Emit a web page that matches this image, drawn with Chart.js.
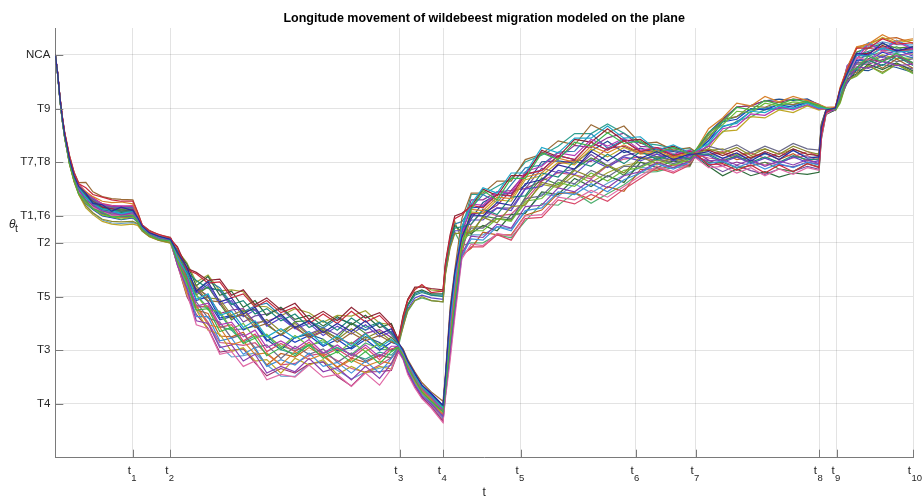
<!DOCTYPE html>
<html>
<head>
<meta charset="utf-8">
<script src="https://cdn.jsdelivr.net/npm/chart.js@4.4.1/dist/chart.umd.min.js"></script>
<style>
html,body{margin:0;padding:0;background:#fff;}
#wrap{width:922px;height:499px;position:relative;}
</style>
</head>
<body>
<div id="wrap"><canvas id="c" width="922" height="499"></canvas></div>
<script>
// ---- data ----
const titleText = 'Longitude movement of wildebeest migration modeled on the plane';
const xTickValues = [33, 49, 146.5, 165, 198, 247, 272.5, 325, 332.5, 365];
const xTickLabels = ['t', 't', 't', 't', 't', 't', 't', 't', 't', 't'];
const xTickSubs = ['1', '2', '3', '4', '5', '6', '7', '8', '9', '10'];
const yTickValues = [2, 4, 6, 8, 9, 11, 13, 15];
const yTickLabels = ['T4', 'T3', 'T5', 'T2', 'T1,T6', 'T7,T8', 'T9', 'NCA'];

const days = [0,1,2,3,4,5,6,8,10,13,16,20,24,28,33,35,37,40,44,49,52,56,60,65,70,75,80,85,90,96,102,108,114,120,126,132,138,143,146,148,150,153,156,160,165,166,168,170,173,177,182,188,194,200,207,214,221,228,235,242,249,256,263,270,272,278,284,290,296,302,308,314,320,325,326,328,332,334,337,341,346,352,358,365];

const p00 = [15,14.31,13.38,12.64,12.02,11.6,11.13,10.5,10.1,9.85,9.47,9.42,9.18,9.33,9.2,8.95,8.62,8.38,8.25,8.13, 7.63,7.1,6.2,6.55,5.8,5.95,5.35,5.6,5.0,5.35,4.85,5.1,4.65,5.0,4.7,5.1,4.6,4.8,4.3, 4.0,3.6,3.15,2.7,2.4,1.95,3.0,5.4,6.9, 8.2,9.05,9.0,9.5,9.4,10.2,10.35,10.9,10.75,11.4,11.05,11.45,11.15,11.4,11.1,11.3,11.3, 11.4,11.15,11.35,11.05,11.35,11.1,11.45,11.15,11.2,12.3,12.95, 13.02,13.7,14.3,15.05,15.0,15.45,15.15,15.3];
const p01 = [15,14.28,13.31,12.55,11.94,11.48,11.0,10.37,9.83,9.58,9.27,9.14,8.96,8.99,9.03,8.8,8.5,8.3,8.13,8.07, 7.3,6.55,5.5,5.55,4.7,4.85,4.25,4.45,3.8,4.1,3.8,4.2,3.7,3.95,3.55,3.95,3.5,3.95,4.1, 3.8,3.35,2.9,2.45,2.1,1.7,2.5,4.3,5.8, 7.9,9.25,9.95,9.6,10.4,10.4,11.35,11.1,11.75,11.6,12.1,11.7,11.8,11.35,11.55,11.3,11.4, 12.1,12.5,13.05,12.95,13.3,13.15,13.35,13.25,13.12,13.08,13.02, 12.98,13.35,14.35,14.5,14.95,14.75,15.05,14.7];
const p02 = [15,14.34,13.42,12.7,12.1,11.68,11.25,10.62,10.2,10.05,9.8,9.7,9.6,9.55,9.55,9.15,8.67,8.44,8.32,8.18, 7.8,7.0,6.85,6.5,6.55,5.95,6.1,5.6,5.85,5.4,5.6,5.0,5.35,5.0,5.45,5.05,5.3,4.85,4.35, 5.2,5.85,6.25,6.45,6.15,6.2,7.2,8.2,8.9, 9.05,9.4,9.3,9.8,9.75,10.55,10.7,11.25,11.1,11.75,11.45,11.8,11.4,11.55,11.25,11.4,11.35, 10.9,10.95,10.7,10.9,10.6,10.9,10.65,10.95,10.8,12.0,12.85, 13.05,13.75,14.45,15.25,15.25,15.6,15.4,15.45];
const p03 = [15,14.29,13.33,12.58,11.98,11.52,11.05,10.42,9.97,9.6,9.42,9.18,9.12,9.03,9.12,8.85,8.52,8.33,8.17,8.09, 7.15,6.3,5.1,5.0,4.1,4.2,3.6,3.85,3.15,3.4,3.2,3.7,3.2,3.35,2.9,3.4,2.95,3.5,4.0, 3.7,3.2,2.7,2.3,2.0,1.55,2.4,4.0,5.5, 7.6,8.25,8.2,8.7,8.55,9.35,9.4,10.05,9.9,10.35,10.05,10.5,10.65,11.0,10.8,11.05,11.2, 11.05,11.1,10.9,11.1,10.85,11.05,10.9,11.1,10.95,12.1,12.88, 12.96,13.45,14.0,14.55,14.5,14.75,14.6,14.65];
const p04 = [15,14.3,13.36,12.6,12.0,11.56,11.1,10.45,10.03,9.7,9.44,9.26,9.2,9.1,9.16,8.9,8.56,8.35,8.2,8.12, 7.45,6.85,5.9,6.1,5.3,5.45,4.85,5.1,4.5,4.8,4.45,4.7,4.2,4.55,4.15,4.6,4.1,4.4,4.2, 3.95,3.55,3.05,2.65,2.3,1.85,2.9,5.1,6.6, 8.6,9.45,10.05,9.85,10.6,10.6,11.55,11.35,11.9,11.9,12.35,11.9,11.95,11.45,11.65,11.35,11.4, 11.7,12.35,12.45,12.9,12.85,13.1,13.0,13.2,13.02,13.04,13.0, 13.01,13.6,14.25,15.0,14.95,15.25,15.1,15.15];
const p05 = [15,14.26,13.29,12.52,11.9,11.43,10.95,10.28,9.8,9.38,9.12,8.88,8.8,8.78,8.8,8.72,8.45,8.24,8.1,8.0, 7.6,6.7,6.4,5.95,5.9,5.3,5.5,4.95,5.15,4.7,5.0,4.55,4.8,4.4,4.8,4.45,4.7,4.35,4.25, 4.85,5.5,5.85,6.0,5.85,5.8,6.8,7.8,8.35, 8.35,8.4,8.95,8.75,9.35,9.4,10.25,10.1,10.7,10.45,10.9,10.6,11.2,10.95,11.15,11.0,11.28, 11.5,11.35,11.55,11.25,11.5,11.3,11.6,11.4,11.3,12.4,12.95, 12.94,13.25,14.05,14.25,14.6,14.35,14.65,14.35];
const p06 = [15,14.32,13.4,12.66,12.06,11.63,11.2,10.55,10.12,9.9,9.72,9.55,9.5,9.52,9.45,9.05,8.62,8.41,8.27,8.16, 7.35,6.15,5.65,4.95,4.85,4.2,4.35,3.85,3.9,3.45,3.95,3.65,3.85,3.35,3.65,3.4,3.6,3.5,4.05, 3.85,3.4,2.85,2.5,2.15,1.6,2.6,4.4,6.0, 8.0,9.25,9.2,9.7,9.65,10.45,10.6,11.15,11.0,11.6,11.35,11.65,11.35,11.45,11.2,11.35,11.35, 12.25,12.65,13.2,13.1,13.45,13.25,13.45,13.3,13.15,13.12,13.05, 13.06,13.8,14.5,15.3,15.4,15.75,15.5,15.6];
const p07 = [15,14.29,13.32,12.57,11.96,11.5,11.04,10.4,9.9,9.62,9.33,9.17,9.03,9.02,9.04,8.83,8.5,8.3,8.16,8.06, 7.15,6.15,4.95,4.8,3.85,3.95,3.4,3.6,2.9,3.1,3.0,3.45,3.0,3.1,2.65,3.15,2.7,3.3,3.95, 3.65,3.1,2.6,2.2,1.85,1.3,2.2,3.6,5.2, 7.4,7.95,7.9,8.35,8.25,9.0,9.05,9.7,9.6,9.95,9.7,10.1,10.5,10.85,10.65,10.95,11.2, 10.8,10.85,10.6,10.8,10.5,10.75,10.55,10.8,10.7,11.9,12.8, 13.0,13.6,14.2,14.9,14.8,15.15,14.95,15.05];
const p08 = [15,14.3,13.36,12.62,12.01,11.57,11.12,10.48,10.06,9.74,9.52,9.28,9.22,9.18,9.19,8.92,8.56,8.37,8.2,8.11, 7.7,6.9,6.6,6.3,6.25,5.7,5.85,5.35,5.55,5.1,5.35,4.85,5.1,4.75,5.2,4.85,5.05,4.65,4.3, 5.05,5.65,6.05,6.15,6.05,6.0,7.0,8.0,8.55, 8.6,8.7,9.25,9.05,9.7,9.75,10.6,10.45,11.05,10.85,11.3,10.95,11.4,11.1,11.3,11.1,11.3, 11.3,11.05,11.25,11.0,11.2,11.0,11.25,11.1,11.12,12.2,12.9, 12.97,13.3,14.2,14.45,14.8,14.6,14.95,14.6];
const p09 = [15,14.33,13.4,12.67,12.07,11.65,11.2,10.58,10.16,9.88,9.67,9.43,9.37,9.38,9.36,9.02,8.64,8.44,8.28,8.18, 7.45,6.7,5.65,5.75,4.95,5.05,4.5,4.75,4.1,4.35,4.05,4.4,3.9,4.2,3.8,4.2,3.75,4.15,4.15, 3.9,3.45,2.95,2.55,2.25,1.75,2.7,4.8,6.4, 8.3,9.45,9.4,9.9,9.85,10.65,10.85,11.35,11.25,11.85,11.6,11.9,11.45,11.55,11.3,11.45,11.35, 11.6,12.25,12.35,12.8,12.75,13.05,12.95,13.15,12.98,13.0,12.98, 13.03,13.5,14.6,14.85,15.4,15.15,15.5,15.2];
const p10 = [15,14.27,13.3,12.54,11.93,11.46,10.98,10.32,9.86,9.48,9.27,9.03,8.97,8.88,8.96,8.78,8.47,8.28,8.12,8.03, 7.4,6.45,6.05,5.5,5.45,4.8,5.0,4.45,4.6,4.1,4.55,4.15,4.4,3.9,4.3,3.95,4.25,3.95,4.15, 3.9,3.5,3.0,2.6,2.2,1.85,2.75,4.9,6.5, 8.0,8.45,8.45,8.9,8.8,9.55,9.65,10.25,10.1,10.6,10.3,10.7,10.8,11.1,10.9,11.1,11.25, 12.0,12.4,12.9,12.85,13.2,13.1,13.25,13.2,13.06,13.06,13.01, 12.93,13.2,14.05,14.2,14.6,14.3,14.65,14.3];
const p11 = [15,14.31,13.37,12.63,12.03,11.58,11.14,10.5,10.07,9.76,9.54,9.33,9.27,9.18,9.23,8.93,8.58,8.36,8.23,8.13, 7.85,7.05,6.9,6.6,6.65,6.05,6.25,5.7,5.95,5.5,5.75,5.15,5.45,5.1,5.6,5.2,5.4,4.95,4.4, 5.3,5.9,6.35,6.35,6.3,6.25,7.25,8.3,9.0, 9.1,9.35,10.0,9.75,10.5,10.5,11.45,11.2,11.85,11.75,12.25,11.8,11.85,11.45,11.6,11.35,11.42, 11.45,11.25,11.45,11.15,11.4,11.2,11.5,11.3,11.25,12.35,12.93, 13.02,13.65,14.3,15.05,15.05,15.35,15.15,15.25];
const p12 = [15,14.3,13.34,12.59,11.99,11.54,11.08,10.43,9.99,9.65,9.44,9.2,9.14,9.08,9.13,8.87,8.54,8.32,8.19,8.09, 7.25,6.4,5.25,5.25,4.35,4.45,3.85,4.1,3.4,3.65,3.45,3.9,3.4,3.55,3.15,3.6,3.15,3.7,4.05, 3.75,3.25,2.75,2.35,2.05,1.5,2.45,4.2,5.7, 7.5,8.15,8.1,8.6,8.45,9.2,9.3,9.9,9.8,10.2,9.9,10.35,10.6,10.95,10.75,11.0,11.22, 10.95,11.05,10.8,11.0,10.75,10.95,10.8,11.0,10.9,12.05,12.86, 13.04,13.55,14.6,14.95,15.45,15.2,15.55,15.25];
const p13 = [15,14.35,13.43,12.71,12.12,11.7,11.27,10.63,10.24,10.25,9.9,9.72,9.65,9.62,9.6,9.15,8.67,8.47,8.3,8.21, 7.55,6.65,6.3,5.85,5.8,5.2,5.35,4.85,5.0,4.55,4.9,4.45,4.7,4.3,4.65,4.35,4.55,4.3,4.25, 4.05,3.65,3.2,2.8,2.45,2.1,3.1,5.6,7.0, 8.9,9.85,9.85,10.3,10.3,11.1,11.3,11.8,11.65,12.4,12.1,12.35,11.7,11.75,11.45,11.55,11.42, 11.9,12.6,12.7,13.1,13.05,13.25,13.15,13.3,13.08,13.06,13.01, 12.96,13.3,14.25,14.35,14.85,14.5,14.85,14.5];
const p14 = [15,14.28,13.32,12.56,11.95,11.49,11.03,10.38,9.91,9.56,9.34,9.1,9.04,8.98,9.01,8.82,8.49,8.28,8.15,8.05, 7.6,7.05,6.15,6.45,5.7,5.85,5.25,5.5,4.9,5.2,4.8,5.0,4.55,4.9,4.6,4.95,4.5,4.7,4.3, 4.95,5.55,5.95,6.05,5.95,5.9,6.9,7.9,8.45, 8.45,8.85,8.85,9.3,9.2,10.0,10.1,10.7,10.55,11.1,10.8,11.2,11.05,11.3,11.05,11.25,11.3, 11.25,11.0,11.2,10.95,11.15,10.95,11.2,11.0,11.05,12.2,12.9, 13.0,13.45,14.4,14.7,15.1,14.9,15.2,14.95];
const p15 = [15,14.32,13.38,12.65,12.05,11.61,11.17,10.53,10.11,9.8,9.59,9.38,9.32,9.28,9.29,8.98,8.6,8.41,8.24,8.15, 7.35,6.3,5.8,5.2,5.05,4.45,4.6,4.1,4.2,3.7,4.15,3.85,4.05,3.55,3.9,3.6,3.85,3.7,4.1, 3.85,3.4,2.9,2.5,2.15,1.7,2.65,4.6,6.2, 7.9,8.55,8.55,9.0,8.9,9.65,9.75,10.35,10.2,10.7,10.45,10.85,10.85,11.15,10.95,11.15,11.27, 11.6,11.45,11.65,11.35,11.6,11.4,11.7,11.5,11.45,12.45,12.97, 12.98,13.55,14.15,14.7,14.7,14.95,14.75,14.85];
const p16 = [15,14.25,13.28,12.51,11.89,11.42,10.93,10.27,9.79,9.3,9.05,8.8,8.7,8.66,8.7,8.65,8.44,8.23,8.09,7.99, 7.2,6.05,5.5,4.75,4.6,3.95,4.1,3.6,3.65,3.15,3.7,3.45,3.65,3.1,3.4,3.15,3.4,3.3,4.0, 3.75,3.3,2.8,2.4,2.05,1.55,2.5,4.4,5.9, 7.7,9.15,9.1,9.6,9.55,10.35,10.5,11.0,10.9,11.5,11.2,11.55,11.3,11.4,11.15,11.35,11.33, 11.5,12.15,12.2,12.7,12.65,12.95,12.85,13.1,12.94,12.97,12.97, 13.05,13.75,14.5,15.25,15.35,15.65,15.45,15.55];
const p17 = [15,14.3,13.35,12.61,12.0,11.55,11.1,10.46,10.01,9.68,9.47,9.23,9.17,9.13,9.16,8.9,8.55,8.34,8.21,8.1, 7.7,7.2,6.4,6.75,6.05,6.2,5.6,5.85,5.3,5.6,5.15,5.3,4.9,5.25,4.95,5.3,4.85,5.0,4.35, 5.1,5.7,6.15,6.25,6.1,6.1,7.1,8.1,8.65, 8.4,8.35,8.65,8.45,9.05,9.1,9.9,9.8,10.4,10.1,10.5,10.25,11.0,10.8,11.05,10.9,11.25, 10.85,10.5,10.75,10.5,10.65,10.45,10.6,10.55,10.63,11.85,12.78, 12.95,13.3,14.1,14.3,14.65,14.45,14.7,14.4];
const p18 = [15,14.33,13.41,12.68,12.08,11.66,11.22,10.59,10.19,9.9,9.69,9.46,9.4,9.36,9.39,9.04,8.65,8.45,8.28,8.19, 7.4,6.6,5.6,5.65,4.85,4.95,4.35,4.6,3.95,4.25,3.95,4.3,3.8,4.05,3.7,4.1,3.65,4.05,4.1, 3.9,3.45,3.0,2.55,2.2,1.8,2.75,4.85,6.3, 7.5,7.85,7.85,8.3,8.1,8.9,8.95,9.6,9.45,9.8,9.55,10.0,10.4,10.8,10.6,10.9,11.18, 11.3,11.4,11.2,11.35,11.15,11.35,11.2,11.4,11.2,12.3,12.92, 13.01,13.65,14.3,15.0,14.95,15.3,15.1,15.2];
const p19 = [15,14.26,13.3,12.53,11.92,11.45,10.97,10.31,9.84,9.46,9.24,9.0,8.94,8.86,8.93,8.76,8.46,8.27,8.11,8.02, 7.45,6.8,5.85,6.0,5.2,5.3,4.75,4.95,4.35,4.6,4.3,4.55,4.15,4.4,4.05,4.4,4.0,4.3,4.2, 3.95,3.55,3.1,2.7,2.35,1.95,2.95,5.3,6.8, 8.4,9.3,9.35,9.8,9.75,10.55,10.7,11.25,11.1,11.75,11.45,11.8,11.4,11.5,11.25,11.4,11.3, 11.8,12.5,12.6,13.0,12.95,13.15,13.05,13.25,13.05,13.05,13.0, 12.99,13.55,14.2,14.8,14.85,15.1,14.95,15.1];
const p20 = [15,14.31,13.37,12.62,12.03,11.58,11.14,10.5,10.06,9.77,9.5,9.32,9.22,9.25,9.21,8.94,8.57,8.37,8.22,8.12, 7.54,6.9,6.06,6.36,5.73,5.13,5.43,5.53,4.94,4.58,5.07,5.1,4.73,4.46,5.01,4.63,4.17,4.48,4.23, 3.95,3.5,3.05,2.6,2.3,1.9,2.85,5.0,6.5, 8.23,8.3,9.0,8.9,8.85,9.69,10.42,10.17,10.75,11.16,10.87,10.52,11.13,11.2,11.07,11.15,11.27, 11.0,11.0,10.79,10.87,11.0,10.75,10.66,10.95,10.83,12.05,12.85, 13.04,13.64,14.44,15.11,15.25,15.42,15.25,15.31];
const p21 = [15,14.28,13.33,12.57,11.97,11.5,11.05,10.39,9.93,9.62,9.36,9.15,9.05,9.04,9.05,8.84,8.5,8.31,8.16,8.06, 7.18,6.0,5.34,4.82,3.93,4.0,4.05,3.53,3.05,3.32,3.15,3.5,3.57,3.02,2.67,3.19,3.21,3.25,3.93, 3.7,3.15,2.65,2.25,1.9,1.35,2.3,3.8,5.4, 7.6,9.1,9.1,9.4,9.95,10.02,10.3,10.94,11.08,11.03,11.52,11.6,11.33,11.3,11.19,11.29,11.33, 12.06,12.56,13.06,13.11,13.29,13.23,13.35,13.32,13.16,13.1,13.03, 12.97,13.4,14.23,14.53,14.83,14.76,14.99,14.65];
const p22 = [15,14.32,13.39,12.65,12.06,11.62,11.19,10.55,10.13,9.85,9.6,9.42,9.32,9.32,9.33,9.0,8.62,8.41,8.26,8.17, 7.63,7.02,6.22,6.58,6.33,5.75,5.43,5.65,5.75,5.28,4.83,5.1,4.83,5.18,5.01,4.75,5.01,4.67,4.3, 5.0,5.7,6.1,6.2,6.05,6.05,7.05,8.05,8.7, 8.79,9.3,9.8,9.5,10.17,10.79,10.9,11.38,11.41,12.07,11.52,11.84,11.72,11.45,11.44,11.33,11.39, 11.81,12.32,12.5,12.9,13.02,13.0,13.11,13.2,13.02,13.04,13.0, 13.0,13.54,14.23,14.8,14.77,15.12,15.05,14.89];
const p23 = [15,14.28,13.31,12.55,11.94,11.48,11.01,10.35,9.88,9.55,9.3,9.09,8.98,8.97,8.98,8.8,8.48,8.29,8.14,8.04, 7.33,6.48,5.5,5.37,4.53,4.5,4.67,4.02,3.45,3.88,3.75,4.1,3.78,3.38,3.71,3.55,3.81,3.72,4.05, 3.8,3.35,2.85,2.45,2.1,1.6,2.55,4.5,6.0, 7.55,7.8,8.4,8.3,8.3,9.03,9.22,9.84,9.87,9.6,10.09,9.92,10.74,10.7,10.9,10.87,11.18, 11.28,11.35,11.1,11.19,11.35,11.1,11.32,11.05,11.14,12.25,12.92, 13.07,13.7,14.55,15.25,15.43,15.6,15.64,15.43];
const p24 = [15,14.31,13.37,12.63,12.04,11.6,11.15,10.51,10.08,9.8,9.55,9.36,9.26,9.28,9.25,8.96,8.6,8.39,8.24,8.14, 7.6,7.02,6.14,6.36,6.21,5.63,5.05,5.28,5.35,5.56,5.07,4.6,4.83,4.58,5.01,4.75,5.01,4.58,4.25, 4.0,3.55,3.1,2.7,2.35,1.9,2.9,5.2,6.7, 8.3,9.0,9.0,9.3,9.29,10.02,10.78,10.61,10.75,11.29,10.87,11.24,11.4,11.2,11.23,11.15,11.31, 10.92,10.65,10.88,10.69,10.55,10.75,10.66,10.85,10.74,11.95,12.82, 12.95,13.42,14.02,14.53,14.53,14.76,14.66,14.47];
const p25 = [15,14.3,13.34,12.59,11.99,11.53,11.08,10.43,9.98,9.67,9.42,9.22,9.12,9.12,9.12,8.88,8.54,8.34,8.19,8.09, 7.39,6.6,5.66,5.59,5.37,4.75,4.3,4.53,4.54,4.02,3.87,4.2,3.89,4.1,3.84,3.67,3.93,3.82,4.1, 3.85,3.45,2.95,2.55,2.2,1.75,2.7,4.75,6.3, 8.5,9.8,9.8,10.1,10.39,11.01,11.26,11.6,12.07,12.07,12.43,12.08,11.72,11.65,11.53,11.5,11.42, 11.89,12.52,12.7,12.97,13.02,13.15,13.15,13.26,13.07,13.06,13.0, 13.03,13.62,14.37,14.98,15.13,15.3,15.18,15.19];
const p26 = [15,14.27,13.3,12.54,11.93,11.46,10.99,10.33,9.85,9.52,9.27,9.05,8.95,8.93,8.95,8.78,8.47,8.27,8.13,8.03, 7.72,7.26,6.54,6.8,6.21,6.25,6.18,5.65,5.62,5.28,5.55,5.4,5.04,5.3,5.27,5.47,5.01,4.96,4.38, 5.25,5.9,6.3,6.4,6.25,6.2,7.15,8.15,8.8, 8.09,8.6,8.6,8.9,8.85,9.47,10.18,10.06,10.53,10.25,10.61,10.88,11.0,10.9,11.07,11.01,11.25, 11.44,11.5,11.28,11.37,11.5,11.3,11.49,11.3,11.32,12.4,12.95, 12.98,13.5,14.16,14.7,14.77,15.0,14.86,14.89];
const p27 = [15,14.3,13.36,12.61,12.01,11.57,11.12,10.47,10.03,9.73,9.48,9.28,9.18,9.18,9.18,8.92,8.56,8.36,8.21,8.11, 7.3,6.36,5.66,5.04,4.29,4.25,4.18,4.28,3.86,3.46,3.51,3.8,3.89,3.62,3.32,3.19,3.45,3.72,4.03, 3.75,3.3,2.8,2.4,2.0,1.45,2.4,4.3,5.8, 7.8,8.7,9.2,9.0,9.07,9.58,10.3,10.61,10.53,10.38,10.87,11.12,11.2,11.05,11.11,11.19,11.3, 11.16,11.1,11.19,11.0,10.9,11.0,11.16,11.25,11.05,12.15,12.89, 13.02,13.52,14.44,14.84,15.25,15.18,15.12,15.19];
const p28 = [15,14.33,13.4,12.66,12.07,11.64,11.2,10.57,10.15,9.88,9.63,9.45,9.35,9.35,9.35,9.02,8.64,8.43,8.27,8.18, 7.48,6.78,6.22,5.81,5.13,5.25,5.3,5.03,4.4,4.02,4.47,4.6,4.41,3.98,4.1,4.51,4.29,4.0,4.18, 3.95,3.5,3.05,2.6,2.25,1.8,2.8,5.0,6.5, 8.2,8.9,9.5,9.8,9.84,10.13,11.02,11.05,10.97,11.42,11.78,11.36,11.53,11.35,11.4,11.26,11.36, 12.1,12.6,13.06,13.11,13.29,13.35,13.3,13.36,13.14,13.1,13.03, 12.94,13.38,13.95,14.44,14.41,14.64,14.53,14.35];
const p29 = [15,14.26,13.29,12.52,11.9,11.43,10.96,10.29,9.8,9.38,9.1,8.85,8.74,8.72,8.75,8.7,8.43,8.25,8.1,8.0, 7.24,6.12,5.5,5.04,4.17,3.75,3.8,3.9,3.46,3.04,3.03,3.5,3.57,3.26,2.93,3.19,3.33,3.44,4.0, 3.7,3.2,2.7,2.25,1.95,1.4,2.3,3.9,5.4, 7.45,8.3,8.3,8.6,8.52,9.14,9.82,9.73,10.2,9.86,10.22,10.52,10.81,10.75,10.94,10.91,11.21, 11.32,11.15,11.28,11.14,11.3,11.2,11.43,11.2,11.19,12.3,12.92, 13.05,13.66,14.48,15.07,15.31,15.48,15.38,15.37];
const p30 = [15,14.32,13.38,12.64,12.05,11.61,11.17,10.53,10.1,9.82,9.57,9.38,9.28,9.28,9.28,8.98,8.61,8.4,8.25,8.15, 7.57,6.72,6.3,6.03,5.37,5.5,5.55,5.03,5.08,5.28,4.83,4.5,4.73,4.46,4.23,4.63,4.77,4.48,4.23, 4.0,3.6,3.1,2.7,2.35,1.9,2.95,5.3,6.8, 8.5,9.6,9.6,9.9,9.95,10.57,11.38,11.16,11.63,11.55,11.91,12.08,11.59,11.55,11.44,11.33,11.41, 11.08,10.85,11.01,10.87,11.0,10.9,10.83,11.0,10.92,12.1,12.88, 12.98,13.48,14.16,14.66,14.65,14.82,14.98,14.71];
const p31 = [15,14.29,13.33,12.58,11.98,11.52,11.06,10.41,9.95,9.64,9.39,9.18,9.08,9.08,9.08,8.86,8.52,8.32,8.18,8.07, 7.42,6.6,6.06,5.59,4.89,4.75,4.8,4.9,4.54,4.16,3.99,4.2,4.31,4.1,3.84,4.27,4.05,4.0,4.13, 4.9,5.45,5.85,5.95,5.85,5.8,6.85,7.85,8.4, 7.9,8.0,8.0,8.3,8.19,8.81,9.46,9.4,9.87,9.47,9.83,10.16,10.62,10.65,10.81,10.84,11.17, 11.68,12.12,12.54,12.69,12.96,12.98,13.0,13.12,12.98,13.0,12.98, 13.02,13.58,14.34,14.89,14.95,15.12,15.31,15.01];

const paths = [p00,p01,p02,p03,p04,p05,p06,p07,p08,p09,p10,p11,p12,p13,p14,p15,p16,p17,p18,p19,p20,p21,p22,p23,p24,p25,p26,p27,p28,p29,p30,p31];
const colors = ['#2b2b9e','#3bb54a','#c8283c','#8a3fb0','#1fa8c9','#8c8a2e','#d9822b','#e06aa6','#1d8a7a','#b436b4','#6dbe3c','#8f2435','#3f8fdc','#9a6a36','#5a45c9','#6b6b8a','#bfa624','#2d6b3a','#d94a6a','#1c3fbf','#4b8b3b','#a03070','#2f7fb0','#c06020','#7050a0','#30a090','#a0a030','#d05080','#205090','#60a0d0','#903090','#50b070'];

// ---- chart ----
const FONT = "'Liberation Sans', Arial, Helvetica, sans-serif";
const TXT = '#262626';
const AXIS = '#7a7a7a';

const datasets = paths.map((p, k) => ({
  label: 'path ' + (k + 1),
  data: days.map((d, i) => ({x: d, y: p[i]})),
  borderColor: colors[k % colors.length],
  borderWidth: 1.2,
  pointRadius: 0,
  tension: 0,
  fill: false
}));

const axisDecor = {
  id: 'axisDecor',
  afterDraw(chart) {
    const ctx = chart.ctx;
    const xs = chart.scales.x, ys = chart.scales.y;
    const a = chart.chartArea;
    ctx.save();
    // inward tick marks
    ctx.strokeStyle = AXIS;
    ctx.lineWidth = 1;
    ctx.beginPath();
    xTickValues.forEach(v => {
      const px = Math.round(xs.getPixelForValue(v)) + 0.5;
      ctx.moveTo(px, a.bottom);
      ctx.lineTo(px, a.bottom - 8);
    });
    yTickValues.forEach(v => {
      const py = Math.round(ys.getPixelForValue(v)) + 0.5;
      ctx.moveTo(a.left, py);
      ctx.lineTo(a.left + 8, py);
    });
    ctx.stroke();
    // subscripts of the x tick labels
    ctx.fillStyle = TXT;
    ctx.textAlign = 'left';
    ctx.textBaseline = 'alphabetic';
    ctx.font = '9.5px ' + FONT;
    xTickValues.forEach((v, i) => {
      const px = xs.getPixelForValue(v);
      ctx.fillText(xTickSubs[i], px - 1.6, a.bottom + 23.5);
    });
    // y axis title theta_t
    ctx.font = 'italic 12px ' + FONT;
    ctx.fillText('\u03B8', 9, 227.5);
    ctx.font = '10.5px ' + FONT;
    ctx.fillText('t', 15, 232);
    ctx.restore();
  }
};

new Chart(document.getElementById('c'), {
  type: 'line',
  data: { datasets },
  plugins: [axisDecor],
  options: {
    responsive: false,
    animation: false,
    events: [],
    layout: { padding: { left: 0, right: 9, top: 0, bottom: 0 } },
    plugins: {
      legend: { display: false },
      tooltip: { enabled: false },
      title: {
        display: true,
        fullSize: false,
        text: titleText,
        color: '#000',
        font: { family: FONT, size: 12.5, weight: 'bold' },
        padding: { top: 11.5, bottom: 1.5 }
      }
    },
    scales: {
      x: {
        type: 'linear',
        min: 0,
        max: 365,
        afterBuildTicks(scale) { scale.ticks = xTickValues.map(v => ({ value: v })); },
        afterFit(scale) { scale.height = 41.3; },
        ticks: {
          autoSkip: false,
          maxRotation: 0,
          padding: 6,
          labelOffset: -3.6,
          color: TXT,
          font: { family: FONT, size: 11.5 },
          callback(value, index) { return xTickLabels[index]; }
        },
        grid: { color: 'rgba(38,38,38,0.13)', drawTicks: false, lineWidth: 1 },
        border: { display: true, color: AXIS, width: 1 },
        title: {
          display: true,
          text: 't',
          color: TXT,
          font: { family: FONT, size: 12, lineHeight: 1 },
          padding: { top: 0, bottom: 0 }
        }
      },
      y: {
        type: 'linear',
        min: 0,
        max: 16,
        afterBuildTicks(scale) { scale.ticks = yTickValues.map(v => ({ value: v })); },
        afterFit(scale) { scale.width = 55.3; },
        ticks: {
          autoSkip: false,
          padding: 5,
          color: TXT,
          font: { family: FONT, size: 11.5 },
          callback(value, index) { return yTickLabels[index]; }
        },
        grid: { color: 'rgba(38,38,38,0.13)', drawTicks: false, lineWidth: 1 },
        border: { display: true, color: AXIS, width: 1 }
      }
    }
  }
});
</script>
</body>
</html>
